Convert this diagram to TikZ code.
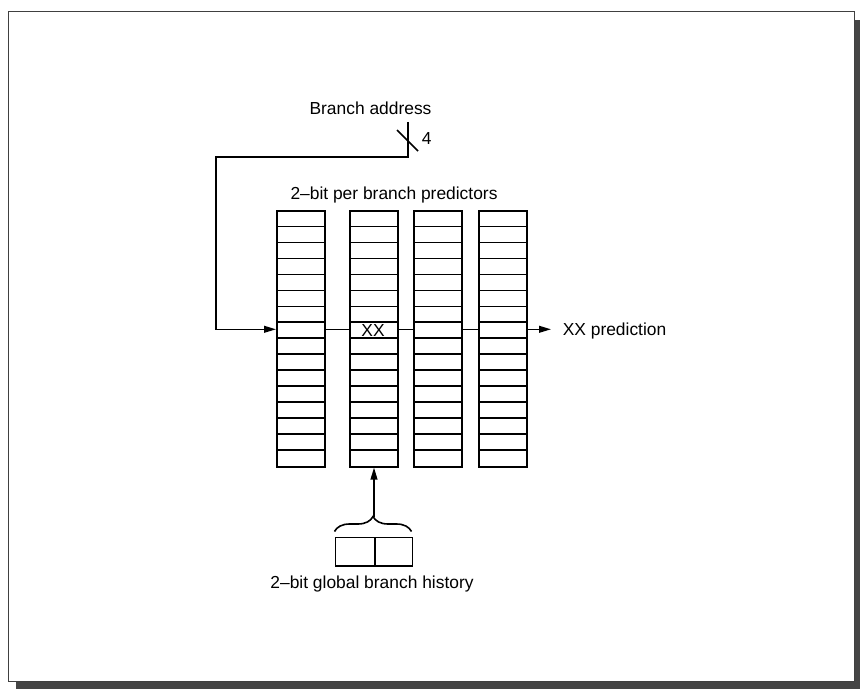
\documentclass[tikz,border=0pt]{standalone}
\usepackage{fontspec}
\setmainfont{Liberation Sans}
\usetikzlibrary{arrows.meta,decorations.pathreplacing}
\begin{document}
\begin{tikzpicture}[x=0.5pt,y=-0.5pt, line width=0.8pt,
  lbl/.style={font=\fontsize{8.7}{10}\selectfont, inner sep=0pt},
  arr/.style={-{Triangle[length=6pt,width=3.4pt]}},
  col/.style={draw, minimum width=24pt, minimum height=127.75pt, inner sep=0pt, anchor=north west},
  cell/.style={draw, inner sep=0pt, minimum height=14.15pt, anchor=north west}]
\useasboundingbox (0,0) rectangle (860,689);
% frame with shadow
\fill[black!73] (16,20) rectangle (860,689);
\filldraw[fill=white, draw=black!75, line width=0.5pt] (8,12) rectangle (854,681);
% columns
\node[col] (c1) at (276,210.5) {};
\node[col] (c2) at (349,210.5) {};
\node[col] (c3) at (413,210.5) {};
\node[col] (c4) at (478,210.5) {};
\foreach \x in {276,349,413,478}
  \foreach \i in {1,...,15}
    \draw (\x,210.5+\i*15.97) -- ++(48,0);
\coordinate (r) at (300,329.3);
\node[lbl, anchor=base] (xx) at (373,336) {XX};
\node[lbl, anchor=base] (title) at (394,200) {2--bit per branch predictors};
% branch address
\node[lbl, anchor=base] (ba) at (370.5,115) {Branch address};
\coordinate (a0) at (407.7,122);
\coordinate (a1) at (407.7,157);
\coordinate (a2) at (215.7,157);
\draw[arr] (a0) -- (a1) -- (a2) |- (c1.west |- r);
\coordinate (s0) at (397,130);
\coordinate (s1) at (418,151);
\draw (s0) -- (s1);
\node[lbl, anchor=base west] (four) at (421,145) {4};
% row links
\draw (c1.east |- r) -- (c2.west |- r);
\draw (c2.east |- r) -- (c3.west |- r);
\draw (c3.east |- r) -- (c4.west |- r);
\coordinate (p) at (551,329.3);
\draw[arr] (c4.east |- r) -- (p);
\node[lbl, anchor=base west] (pred) at (562,335) {XX prediction};
% history
\node[cell, minimum width=19.75pt] (h1) at (334.5,536.7) {};
\node[cell, minimum width=18.75pt] (h2) at (374,536.7) {};
\draw[decorate, decoration={brace, amplitude=7.5pt}] (334.5,531.5) -- (411.5,531.5);
\coordinate (bt) at (374,516.5);
\draw[arr] (bt) -- (bt |- c2.south);
\node[lbl, anchor=base] (ht) at (372,588) {2--bit global branch history};
\end{tikzpicture}
\end{document}
